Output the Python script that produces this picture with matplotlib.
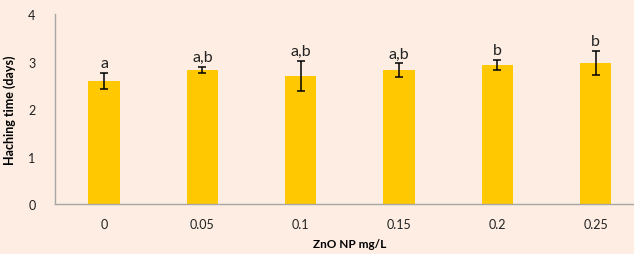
import matplotlib

matplotlib.use("Agg")
import matplotlib.pyplot as plt

CATEGORIES = ["0", "0.05", "0.1", "0.15", "0.2", "0.25"]
MEANS = [2.59, 2.82, 2.69, 2.82, 2.93, 2.97]
ERRORS = [0.17, 0.07, 0.32, 0.14, 0.10, 0.26]
LETTERS = ["a", "a,b", "a,b", "a,b", "b", "b"]

BG = "#FDEDE2"
BAR = "#FFC800"

plt.rcParams["font.family"] = ["Lato", "DejaVu Sans"]

fig = plt.figure(figsize=(6.34, 2.55), dpi=100)
fig.patch.set_facecolor(BG)
ax = fig.add_axes([0.0868, 0.196, 0.93, 0.745])
ax.set_facecolor(BG)

x = list(range(len(CATEGORIES)))
ax.bar(x, MEANS, width=0.32, color=BAR, zorder=2)
ax.errorbar(x, MEANS, yerr=ERRORS, fmt="none", ecolor="black",
            elinewidth=1.1, capsize=2.7, capthick=1.1, zorder=3)
for xi, m, e, lab in zip(x, MEANS, ERRORS, LETTERS):
    ax.text(xi, m + e + 0.06, lab, ha="center", va="bottom",
            fontsize=11.5, color="#222222")

ax.set_xlim(-0.5, len(CATEGORIES) - 0.5)
ax.set_ylim(0, 4)
ax.set_yticks([0, 1, 2, 3, 4])
ax.set_xticks(x)
ax.set_xticklabels(CATEGORIES)
ax.tick_params(length=0, labelsize=9, colors="#222222", pad=10)
ax.tick_params(axis="y", pad=14)

for side in ("top", "right"):
    ax.spines[side].set_visible(False)
for side in ("left", "bottom"):
    ax.spines[side].set_color("#A6A6A6")
    ax.spines[side].set_linewidth(1.0)

ax.set_xlabel("ZnO NP mg/L", fontsize=8.5, fontweight="bold", labelpad=6)
ax.set_ylabel("Haching time (days)", fontsize=9, fontweight="bold", labelpad=9)

fig.savefig("out.png", facecolor=BG)
